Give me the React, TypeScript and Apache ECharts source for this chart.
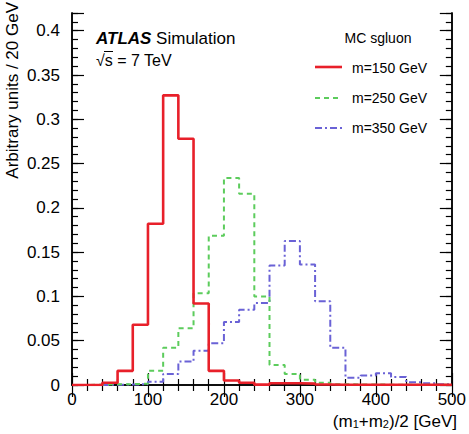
import React, { useEffect, useRef } from "react";
import * as echarts from "echarts";

// Bin edges: 20 GeV bins from 0 to 500 GeV
const binEdges: number[] = [
  0, 20, 40, 60, 80, 100, 120, 140, 160, 180, 200, 220, 240, 260, 280, 300,
  320, 340, 360, 380, 400, 420, 440, 460, 480, 500,
];

// Normalised bin contents for each sgluon mass hypothesis
const m150: number[] = [
  0, 0, 0.0026, 0.016, 0.068, 0.182, 0.327, 0.278, 0.092, 0.016, 0.005,
  0.0026, 0.0004, 0.002, 0.002, 0.0015, 0.0005, 0.0003, 0.0003, 0.0003,
  0.0003, 0.0003, 0.0003, 0.0003, 0.0003,
];
const m250: number[] = [
  0, 0.0005, 0.0008, 0.001, 0.0015, 0.016, 0.042, 0.064, 0.1035, 0.1686,
  0.2336, 0.216, 0.1, 0.0227, 0.0125, 0.006, 0.0026, 0.0009, 0.0006, 0.0005,
  0.0004, 0.0003, 0.0003, 0.0002, 0.0002,
];
const m350: number[] = [
  0, 0, 0.0003, 0.0005, 0.001, 0.0037, 0.0125, 0.0264, 0.0388, 0.047, 0.071,
  0.085, 0.0925, 0.135, 0.1625, 0.136, 0.0945, 0.042, 0.0083, 0.0108, 0.0132,
  0.009, 0.003, 0.002, 0.0008,
];

const legendLabels: string[] = ["m=150 GeV", "m=250 GeV", "m=350 GeV"];
const xTitle = "(m{s|1}+m{s|2})/2 [GeV]";
const yTitle = "Arbitrary units / 20 GeV";

const FONT = "'Liberation Sans', Arial, Helvetica, sans-serif";
const RED = "#e8202a";
const GREEN = "#5ccc5c";
const BLUE = "#6a62d6";

// Turn bin contents into step-line points (left edge of each bin + final edge)
function toSteps(values: number[]): number[][] {
  const pts = values.map((v, i) => [binEdges[i], v]);
  pts.push([binEdges[binEdges.length - 1], values[values.length - 1]]);
  return pts;
}

export default function App() {
  const ref = useRef<HTMLDivElement>(null);

  useEffect(() => {
    if (!ref.current) return;
    const chart = echarts.init(ref.current, undefined, { renderer: "svg" });

    const axisLine = { show: true, lineStyle: { color: "#000", width: 1.5 } };
    const majorTick = (len: number) => ({
      show: true,
      inside: true,
      length: len,
      lineStyle: { color: "#000", width: 1.2 },
    });

    const yBase = {
      type: "value" as const,
      min: 0,
      max: 0.42,
      splitLine: { show: false },
      axisLine,
    };

    chart.setOption({
      animation: false,
      backgroundColor: "#fff",
      grid: { left: 72, right: 14, top: 13, bottom: 49, containLabel: false },
      xAxis: [
        {
          type: "value",
          position: "bottom",
          min: 0,
          max: 500,
          interval: 100,
          axisLine,
          axisTick: majorTick(12),
          minorTick: {
            show: true,
            splitNumber: 5,
            length: 6,
            lineStyle: { color: "#000", width: 1.2 },
          },
          splitLine: { show: false },
          axisLabel: {
            color: "#000",
            fontSize: 17,
            fontFamily: FONT,
            margin: 6,
          },
        },
        {
          type: "value",
          position: "top",
          min: 0,
          max: 500,
          interval: 100,
          axisLine,
          axisTick: majorTick(12),
          minorTick: {
            show: true,
            splitNumber: 5,
            length: 6,
            lineStyle: { color: "#000", width: 1.2 },
          },
          splitLine: { show: false },
          axisLabel: { show: false },
        },
      ],
      yAxis: [
        {
          ...yBase,
          position: "left",
          interval: 0.05,
          axisTick: majorTick(12),
          axisLabel: {
            color: "#000",
            fontSize: 17,
            fontFamily: FONT,
            margin: 12,
            formatter: (v: number) => (v > 0.41 ? "" : String(+v.toFixed(2))),
          },
        },
        {
          ...yBase,
          position: "left",
          interval: 0.01,
          axisTick: majorTick(6),
          axisLabel: { show: false },
        },
        {
          ...yBase,
          position: "right",
          interval: 0.05,
          axisTick: majorTick(12),
          axisLabel: { show: false },
        },
        {
          ...yBase,
          position: "right",
          interval: 0.01,
          axisTick: majorTick(6),
          axisLabel: { show: false },
        },
      ],
      series: [
        {
          name: legendLabels[2],
          type: "line",
          step: "end",
          showSymbol: false,
          data: toSteps(m350),
          lineStyle: { color: BLUE, width: 2, type: [7, 3, 2, 3] },
          z: 2,
        },
        {
          name: legendLabels[1],
          type: "line",
          step: "end",
          showSymbol: false,
          data: toSteps(m250),
          lineStyle: { color: GREEN, width: 2, type: [5, 4] },
          z: 3,
        },
        {
          name: legendLabels[0],
          type: "line",
          step: "end",
          showSymbol: false,
          data: toSteps(m150),
          lineStyle: { color: RED, width: 2.6 },
          z: 4,
        },
      ],
      graphic: [
        // y-axis title, rotated, flush with the top of the frame
        {
          type: "text",
          x: 12,
          y: 2,
          rotation: Math.PI / 2,
          style: {
            text: yTitle,
            fontSize: 17,
            fontFamily: FONT,
            fill: "#000",
            align: "right",
            verticalAlign: "middle",
          },
        },
        // x-axis title, flush with the right end of the frame
        {
          type: "text",
          x: 457,
          y: 421,
          style: {
            text: xTitle,
            fontSize: 17,
            fontFamily: FONT,
            fill: "#000",
            align: "right",
            verticalAlign: "middle",
            rich: {
              s: { fontSize: 11, fontFamily: FONT, fill: "#000", padding: [6, 0, 0, 0] },
            },
          },
        },
        // ATLAS Simulation label
        {
          type: "text",
          x: 96,
          y: 38,
          style: {
            text: "{b|ATLAS} Simulation",
            fontSize: 17,
            fontFamily: FONT,
            fill: "#000",
            verticalAlign: "middle",
            rich: {
              b: { fontSize: 17, fontFamily: FONT, fontWeight: "bold", fontStyle: "italic", fill: "#000" },
            },
          },
        },
        {
          type: "text",
          x: 96,
          y: 60,
          style: {
            text: "\u221As = 7 TeV",
            fontSize: 16,
            fontFamily: FONT,
            fill: "#000",
            verticalAlign: "middle",
          },
        },
        {
          type: "line",
          shape: { x1: 104, y1: 51.5, x2: 113, y2: 51.5 },
          style: { stroke: "#000", lineWidth: 1 },
        },
        // legend
        {
          type: "text",
          x: 378,
          y: 38,
          style: {
            text: "MC sgluon",
            fontSize: 14,
            fontFamily: FONT,
            fill: "#000",
            align: "center",
            verticalAlign: "middle",
          },
        },
        {
          type: "line",
          shape: { x1: 315, y1: 67, x2: 342, y2: 67 },
          style: { stroke: RED, lineWidth: 2.6 },
        },
        {
          type: "line",
          shape: { x1: 315, y1: 98, x2: 342, y2: 98 },
          style: { stroke: GREEN, lineWidth: 2, lineDash: [5, 4] },
        },
        {
          type: "line",
          shape: { x1: 315, y1: 128, x2: 342, y2: 128 },
          style: { stroke: BLUE, lineWidth: 2, lineDash: [7, 3, 2, 3] },
        },
        ...legendLabels.map((t, i) => ({
          type: "text",
          x: 352,
          y: 68 + i * 30,
          style: {
            text: t,
            fontSize: 14,
            fontFamily: FONT,
            fill: "#000",
            verticalAlign: "middle",
          },
        })),
      ],
    });

    return () => chart.dispose();
  }, []);

  return (
    <div
      ref={ref}
      style={{ position: "fixed", left: 0, top: 0, width: 469, height: 434 }}
    />
  );
}
